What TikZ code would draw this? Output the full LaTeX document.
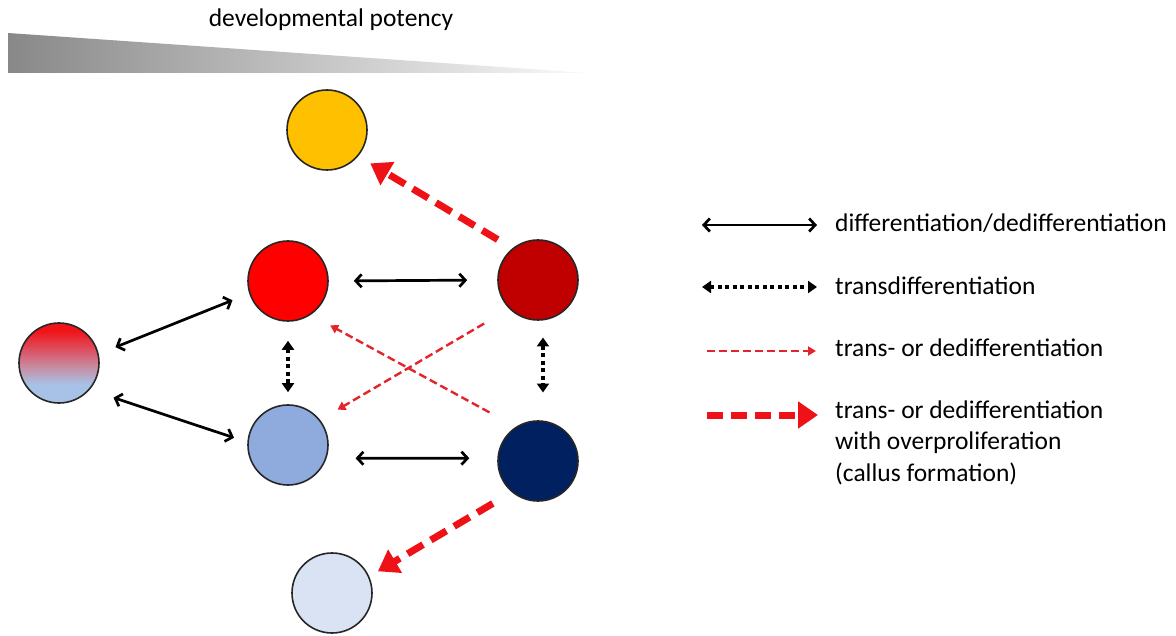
\documentclass[tikz,border=0pt]{standalone}
\usepackage{fontspec}
\setmainfont{Carlito}
\usetikzlibrary{arrows.meta}
\definecolor{cyellow}{HTML}{FFC000}
\definecolor{cred}{HTML}{FF0000}
\definecolor{cdarkred}{HTML}{C00000}
\definecolor{cblue}{HTML}{8FAADC}
\definecolor{cnavy}{HTML}{002060}
\definecolor{cpale}{HTML}{DAE3F3}
\definecolor{gtop}{HTML}{F01418}
\definecolor{gupper}{HTML}{DC5264}
\definecolor{gmid}{HTML}{C98A9E}
\definecolor{gbot}{HTML}{A8C1E6}
\definecolor{dashred}{HTML}{E3242B}
\definecolor{brightred}{HTML}{EE1116}
\definecolor{wedgeleft}{HTML}{888888}
\definecolor{wedgeright}{HTML}{FAFAFA}
\pgfdeclareverticalshading{mixshade}{100bp}{color(0bp)=(gbot); color(37bp)=(gbot); color(48bp)=(gmid); color(58bp)=(gupper); color(70bp)=(gtop); color(100bp)=(gtop)}
\tikzset{
  cell/.style={circle, draw=black!85, line width=1.6pt, minimum size=80pt, inner sep=0pt},
  diffarrow/.style={line width=2.7pt, {Straight Barb[length=6pt,width=13pt]}-{Straight Barb[length=6pt,width=13pt]}},
  transarrow/.style={line width=4.2pt, dash pattern=on 4pt off 3.5pt, {Triangle[length=9pt,width=12pt]}-{Triangle[length=9pt,width=12pt]}},
  thinred/.style={draw=dashred, line width=2.4pt, dash pattern=on 8pt off 4pt, -{Triangle[length=8pt,width=9pt]}},
  thickred/.style={draw=brightred, line width=7pt, dash pattern=on 18pt off 9pt, -{Triangle[length=20pt,width=26pt]}},
  lbl/.style={font=\fontsize{25.5}{31.5}\selectfont, inner sep=0pt, anchor=base west, align=left}
}
\begin{document}
\begin{tikzpicture}[x=1pt,y=-1pt]
\useasboundingbox (0,0) rectangle (1176,636);
% potency wedge
\shade[left color=wedgeleft, right color=wedgeright] (8,33) -- (588,73) -- (8,73) -- cycle;
\node[font=\fontsize{25.5}{30}\selectfont, inner sep=0pt, anchor=base] (title) at (331,27) {developmental potency};
% cells
\node[cell, fill=cyellow] (y) at (327,130) {};
\node[cell, fill=cred] (r) at (288,281) {};
\node[cell, fill=cdarkred] (dr) at (538,280) {};
\node[cell, shading=mixshade] (g) at (59,363) {};
\node[cell, fill=cblue] (b) at (288,445) {};
\node[cell, fill=cnavy] (nv) at (538,461) {};
\node[cell, fill=cpale] (p) at (332,593) {};
% differentiation / dedifferentiation
\draw[diffarrow, shorten <=18pt, shorten >=18pt] (g.13) -- (r.198);
\draw[diffarrow, shorten <=25pt, shorten >=14pt] (g.-41) -- (b.176);
\draw[diffarrow, shorten <=25pt, shorten >=30pt] (r.east) -- (dr.west);
\draw[diffarrow, shorten <=29pt, shorten >=28pt] (b.-19) -- (nv.176);
% transdifferentiation
\draw[transarrow, shorten <=19pt, shorten >=12pt] (r.south) -- (b.north);
\draw[transarrow, shorten <=17pt, shorten >=28pt] (dr.-83) -- (nv.83);
% trans- or dedifferentiation
\draw[thinred, shorten <=29pt, shorten >=20pt] (dr.225) -- (b.38);
\draw[thinred, shorten <=30pt, shorten >=22pt] (nv.123) -- (r.-56);
% with overproliferation
\draw[thickred, shorten <=17pt, shorten >=14pt] (dr.129) -- (y.-40);
\draw[thickred, shorten <=22pt, shorten >=10pt] (nv.230) -- (p.24);
% legend
\coordinate (l1a) at (702,225); \coordinate (l1b) at (817,225);
\coordinate (l2a) at (702,287); \coordinate (l2b) at (817,287);
\coordinate (l3a) at (707,351); \coordinate (l3b) at (816,351);
\coordinate (l4a) at (707,415); \coordinate (l4b) at (818,415);
\draw[diffarrow] (l1a) -- (l1b);
\draw[transarrow] (l2a) -- (l2b);
\draw[thinred] (l3a) -- (l3b);
\draw[thickred, dash pattern=on 16pt off 8pt] (l4a) -- (l4b);
\node[lbl] (t1) at (835,232) {differentiation/dedifferentiation};
\node[lbl] (t2) at (835,295) {transdifferentiation};
\node[lbl] (t3) at (835,357) {trans- or dedifferentiation};
\node[lbl] (t4) at (835,481) {trans- or dedifferentiation\\with overproliferation\\(callus formation)};
\end{tikzpicture}
\end{document}
